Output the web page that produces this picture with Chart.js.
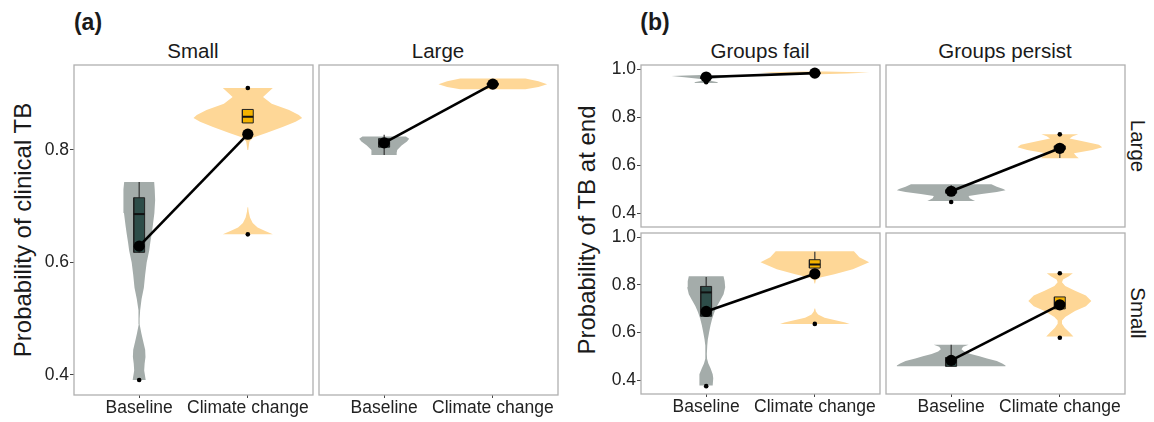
<!DOCTYPE html>
<html>
<head>
<meta charset="utf-8">
<script src="https://cdn.jsdelivr.net/npm/chart.js@4.4.1/dist/chart.umd.min.js"></script>
<style>
  body { margin: 0; width: 1154px; height: 422px; background: #fff; position: relative; overflow: hidden;
         font-family: "Liberation Sans", Arial, sans-serif; color: #1a1a1a; }
  canvas { position: absolute; }
  .lbl { position: absolute; white-space: nowrap; transform: translate(-50%, -50%); }
  .tag { font-weight: bold; font-size: 23px; }
  .strip { font-size: 20.5px; }
  .ytitle { font-size: 24px; transform: translate(-50%, -50%) rotate(-90deg); }
  .rstrip { font-size: 20.5px; transform: translate(-50%, -50%) rotate(90deg); }
</style>
</head>
<body>
<div class="lbl tag" style="left:88px;top:22px">(a)</div>
<div class="lbl tag" style="left:655px;top:22px">(b)</div>
<div class="lbl strip" style="left:193px;top:51px">Small</div>
<div class="lbl strip" style="left:438px;top:51px">Large</div>
<div class="lbl strip" style="left:760px;top:51px">Groups fail</div>
<div class="lbl strip" style="left:1005px;top:51px">Groups persist</div>
<div class="lbl ytitle" style="left:23px;top:230px">Probability of clinical TB</div>
<div class="lbl ytitle" style="left:587px;top:230px">Probability of TB at end</div>
<div class="lbl rstrip" style="left:1138px;top:146px">Large</div>
<div class="lbl rstrip" style="left:1138px;top:313px">Small</div>
<script>
const categories = ['Baseline', 'Climate change'];
const ticksA = [0.4, 0.6, 0.8];
const ticksB = [0.4, 0.6, 0.8, 1.0];
const rangeA = [0.3644, 0.951];
const rangeB = [0.342, 1.017];

// violin profiles: [value, half width]; a zero width splits the violin
const violinASmallBase = [[0.743,0.138],[0.730,0.143],[0.711,0.147],[0.688,0.140],[0.665,0.125],[0.651,0.115],[0.635,0.102],[0.621,0.092],[0.600,0.069],[0.578,0.055],[0.555,0.043],[0.535,0.022],[0.515,0.009],[0.500,0.004],[0.490,0.004],[0.474,0.020],[0.462,0.034],[0.445,0.055],[0.432,0.058],[0.420,0.050],[0.408,0.046],[0.391,0.060]];
const violinASmallClim = [[0.910,0.23],[0.903,0.19],[0.894,0.14],[0.882,0.22],[0.871,0.38],[0.862,0.47],[0.857,0.50],[0.850,0.44],[0.841,0.32],[0.830,0.17],[0.822,0.05],[0.815,0.015],[0.800,0.004],[0.790,0],[0.702,0],[0.698,0.003],[0.690,0.008],[0.680,0.02],[0.670,0.045],[0.662,0.09],[0.656,0.16],[0.650,0.23]];
const violinALargeBase = [[0.824,0.20],[0.820,0.23],[0.815,0.21],[0.808,0.16],[0.800,0.12],[0.795,0.115],[0.791,0.115]];
const violinALargeClim = [[0.927,0.30],[0.922,0.42],[0.917,0.50],[0.912,0.42],[0.908,0.30]];
const violinFailLargeBase = [[0.975,0.05],[0.971,0.32],[0.966,0.20],[0.958,0.03],[0.950,0.05],[0.945,0.11],[0.942,0.10]];
const violinFailLargeClim = [[0.990,0.10],[0.986,0.50],[0.982,0.30],[0.978,0.05],[0.975,0.02]];
const violinFailSmallBase = [[0.836,0.16],[0.815,0.17],[0.790,0.175],[0.760,0.16],[0.735,0.13],[0.711,0.10],[0.685,0.075],[0.657,0.055],[0.630,0.04],[0.603,0.028],[0.570,0.015],[0.545,0.01],[0.510,0.006],[0.490,0.008],[0.470,0.02],[0.450,0.04],[0.425,0.06],[0.408,0.065],[0.390,0.062],[0.378,0.06]];
const violinFailSmallClim = [[0.940,0.36],[0.915,0.41],[0.894,0.50],[0.865,0.35],[0.844,0.18],[0.830,0.05],[0.820,0.01],[0.805,0.003],[0.800,0],[0.705,0],[0.700,0.003],[0.688,0.01],[0.675,0.03],[0.662,0.09],[0.650,0.20],[0.642,0.28],[0.636,0.32]];
const violinPersistLargeBase = [[0.520,0.37],[0.510,0.42],[0.500,0.48],[0.495,0.50],[0.488,0.42],[0.480,0.28],[0.471,0.16],[0.462,0.17],[0.455,0.20],[0.450,0.22]];
const violinPersistLargeClim = [[0.728,0.17],[0.720,0.12],[0.711,0.09],[0.700,0.20],[0.685,0.36],[0.674,0.39],[0.663,0.30],[0.649,0.13],[0.638,0.15],[0.628,0.175]];
const violinPersistSmallBase = [[0.549,0.16],[0.540,0.11],[0.530,0.095],[0.520,0.12],[0.510,0.18],[0.500,0.26],[0.491,0.33],[0.480,0.42],[0.470,0.47],[0.462,0.50],[0.458,0.50]];
const violinPersistSmallClim = [[0.848,0.12],[0.835,0.08],[0.822,0.03],[0.811,0.02],[0.795,0.05],[0.775,0.14],[0.755,0.24],[0.732,0.29],[0.710,0.24],[0.690,0.14],[0.665,0.05],[0.650,0.02],[0.637,0.02],[0.620,0.045],[0.600,0.09],[0.583,0.125]];

// box stats: [lower whisker, q1, median, q3, upper whisker]
const boxASmall = [[0.617, 0.618, 0.686, 0.715, 0.743], [0.848, 0.848, 0.859, 0.872, 0.872]];
const boxALarge = [[0.791, 0.805, 0.812, 0.820, 0.827], [0.914, 0.915, 0.917, 0.919, 0.920]];
const boxFailLarge = [[0.945, 0.960, 0.965, 0.968, 0.970], [0.980, 0.981, 0.983, 0.985, 0.986]];
const boxFailSmall = [[0.668, 0.668, 0.768, 0.793, 0.833], [0.870, 0.870, 0.885, 0.905, 0.938]];
const boxPersistLarge = [[0.480, 0.483, 0.490, 0.497, 0.516], [0.630, 0.665, 0.672, 0.680, 0.690]];
const boxPersistSmall = [[0.458, 0.458, 0.475, 0.495, 0.549], [0.699, 0.699, 0.722, 0.749, 0.749]];

// means (Baseline, Climate change)
const meanASmall = [0.629, 0.828];
const meanALarge = [0.8125, 0.917];
const meanFailLarge = [0.967, 0.983];
const meanFailSmall = [0.688, 0.846];
const meanPersistLarge = [0.491, 0.670];
const meanPersistSmall = [0.483, 0.716];

// outliers: [category index, value]
const outASmall = [[1, 0.391], [2, 0.910], [2, 0.650]];
const outALarge = [];
const outFailLarge = [[1, 0.945]];
const outFailSmall = [[1, 0.375], [2, 0.636]];
const outPersistLarge = [[1, 0.446], [2, 0.728]];
const outPersistSmall = [[2, 0.848], [2, 0.578]];

const violinColors = ['#a4acaa', '#fed797'];
const boxColors = ['#2e4d49', '#f4b300'];
const BW = 0.05;
const PAD = 12;

Chart.defaults.font.family = '"Liberation Sans", Arial, sans-serif';
Chart.defaults.color = '#222';

const frame = {
  id: 'frame',
  afterDatasetsDraw(chart) {
    const { ctx, chartArea: a } = chart;
    ctx.save();
    ctx.strokeStyle = '#b0b0b0';
    ctx.lineWidth = 1.3;
    ctx.strokeRect(a.left, a.top, a.width, a.height);
    ctx.restore();
  }
};

// one closed outline per run of non-zero widths, runs split by a null point
function violinPoints(profile, c) {
  const runs = [[]];
  profile.forEach(([v, w]) => {
    if (w > 0) runs[runs.length - 1].push([v, w]);
    else if (runs[runs.length - 1].length) runs.push([]);
  });
  const pts = [];
  runs.filter(r => r.length).forEach((r, k) => {
    if (k) pts.push({ x: c, y: null });
    r.forEach(([v, w]) => pts.push({ x: c + w, y: v }));
    r.slice().reverse().forEach(([v, w]) => pts.push({ x: c - w, y: v }));
  });
  return pts;
}

function panel(p) {
  const yw = p.yl ? 48 : 0;
  const xh = p.xl ? 26 : 0;
  const cv = document.createElement('canvas');
  cv.width = p.right - p.left + 2 * PAD + yw;
  cv.height = p.bottom - p.top + 2 * PAD + xh;
  cv.style.left = (p.left - PAD - yw) + 'px';
  cv.style.top = (p.top - PAD) + 'px';
  document.body.appendChild(cv);

  const datasets = [];
  [0, 1].forEach(i => {
    const c = i + 1;
    const s = p.box[i];
    datasets.push({ data: violinPoints(p.violins[i], c), showLine: true, spanGaps: false, fill: 'shape',
                    backgroundColor: violinColors[i], borderColor: 'transparent', borderWidth: 0, pointRadius: 0, order: 6 });
    datasets.push({ data: [{ x: c, y: s[0] }, { x: c, y: s[4] }], showLine: true, borderColor: '#333', borderWidth: 1.2,
                    pointRadius: 0, order: 5 });
    datasets.push({ data: [{ x: c - BW, y: s[1] }, { x: c + BW, y: s[1] }, { x: c + BW, y: s[3] }, { x: c - BW, y: s[3] }, { x: c - BW, y: s[1] }],
                    showLine: true, fill: 'shape', backgroundColor: boxColors[i], borderColor: '#222', borderWidth: 1,
                    pointRadius: 0, order: 4 });
    datasets.push({ data: [{ x: c - BW, y: s[2] }, { x: c + BW, y: s[2] }], showLine: true, borderColor: '#111', borderWidth: 2,
                    pointRadius: 0, order: 3 });
  });
  datasets.push({ data: p.out.map(([c, v]) => ({ x: c, y: v })), showLine: false, pointRadius: 2.3,
                  pointBackgroundColor: '#000', pointBorderWidth: 0, order: 2 });
  datasets.push({ data: p.mean.map((v, i) => ({ x: i + 1, y: v })), showLine: true, borderColor: '#000', borderWidth: 2.6,
                  pointRadius: 5.6, pointBackgroundColor: '#000', pointBorderWidth: 0, order: 1 });

  new Chart(cv, {
    type: 'scatter',
    data: { datasets },
    plugins: [frame],
    options: {
      responsive: false,
      devicePixelRatio: 1,
      animation: false,
      events: [],
      layout: { padding: PAD },
      plugins: { legend: { display: false }, tooltip: { enabled: false } },
      scales: {
        x: {
          type: 'linear', min: 0.4, max: 2.6, display: p.xl,
          afterBuildTicks: s => { s.ticks = categories.map((_, i) => ({ value: i + 1 })); },
          afterFit: s => { s.height = xh; s.paddingLeft = 0; s.paddingRight = 0; },
          ticks: { autoSkip: false, maxRotation: 0, padding: 0, font: { size: 17.5 }, color: '#222',
                   callback: v => categories[v - 1] },
          grid: { display: true, drawOnChartArea: false, drawTicks: true, tickLength: 3, color: '#444' },
          border: { display: false }
        },
        y: {
          type: 'linear', min: p.range[0], max: p.range[1], display: p.yl,
          afterBuildTicks: s => { s.ticks = p.ticks.map(v => ({ value: v })); },
          afterFit: s => { s.width = yw; s.paddingTop = 0; s.paddingBottom = 0; },
          ticks: { padding: 1, font: { size: 17.5 }, color: '#222', callback: v => v.toFixed(1) },
          grid: { display: true, drawOnChartArea: false, drawTicks: true, tickLength: 4, color: '#444' },
          border: { display: false }
        }
      }
    }
  });
}

[
  { left: 74, top: 65, right: 313, bottom: 395, yl: true, xl: true, range: rangeA, ticks: ticksA,
    violins: [violinASmallBase, violinASmallClim], box: boxASmall, mean: meanASmall, out: outASmall },
  { left: 319, top: 65, right: 558, bottom: 395, yl: false, xl: true, range: rangeA, ticks: ticksA,
    violins: [violinALargeBase, violinALargeClim], box: boxALarge, mean: meanALarge, out: outALarge },
  { left: 641, top: 65, right: 880, bottom: 227, yl: true, xl: false, range: rangeB, ticks: ticksB,
    violins: [violinFailLargeBase, violinFailLargeClim], box: boxFailLarge, mean: meanFailLarge, out: outFailLarge },
  { left: 886, top: 65, right: 1125, bottom: 227, yl: false, xl: false, range: rangeB, ticks: ticksB,
    violins: [violinPersistLargeBase, violinPersistLargeClim], box: boxPersistLarge, mean: meanPersistLarge, out: outPersistLarge },
  { left: 641, top: 233, right: 880, bottom: 394, yl: true, xl: true, range: rangeB, ticks: ticksB,
    violins: [violinFailSmallBase, violinFailSmallClim], box: boxFailSmall, mean: meanFailSmall, out: outFailSmall },
  { left: 886, top: 233, right: 1125, bottom: 394, yl: false, xl: true, range: rangeB, ticks: ticksB,
    violins: [violinPersistSmallBase, violinPersistSmallClim], box: boxPersistSmall, mean: meanPersistSmall, out: outPersistSmall }
].forEach(panel);
</script>
</body>
</html>
